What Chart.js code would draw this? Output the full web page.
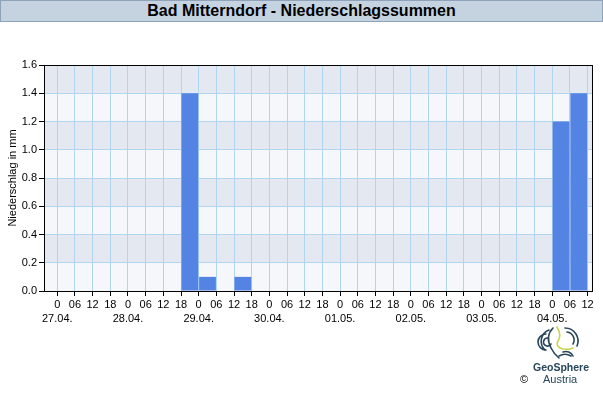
<!DOCTYPE html>
<html>
<head>
<meta charset="utf-8">
<script src="https://cdn.jsdelivr.net/npm/chart.js@4.4.0/dist/chart.umd.min.js"></script>
<style>
  body { margin: 0; background: #fff; font-family: "Liberation Sans", Arial, sans-serif; }
  #wrap { position: relative; width: 603px; height: 400px; }
  #title {
    position: absolute; left: 0; top: 0; width: 601px; height: 20px;
    background: #c5d3e1; border: 1px solid #8ea3b9;
    font-weight: bold; font-size: 16px; line-height: 20px; text-align: center; color: #000;
  }
  #logo { position: absolute; left: 515px; top: 326px; width: 88px; height: 70px; }
  #logo .name { position: absolute; left: 18px; top: 35px; font-size: 10.5px; font-weight: bold; color: #27465a; }
  #logo .land { position: absolute; left: 28px; top: 47px; font-size: 11px; color: #27465a; }
  #logo .copy { position: absolute; left: 5px; top: 47px; font-size: 11px; color: #000; }
</style>
</head>
<body>
<div id="wrap">
  <canvas id="rainChart"></canvas>
  <div id="title">Bad Mitterndorf - Niederschlagssummen</div>
  <div id="logo">
    <svg width="88" height="36" viewBox="0 0 88 36" style="position:absolute;left:0;top:0">
      <g fill="none" stroke="#27465a" stroke-width="1.6" stroke-linecap="round">
        <path d="M33 12 a4 4 0 1 0 3 6"/>
        <path d="M31 8 a8 8 0 0 0 0 16"/>
        <path d="M34 4 a12 12 0 0 0 -4 20"/>
        <path d="M38 2 q-8 8 -2 20 q3 6 8 10"/>
        <path d="M52 6 a8 8 0 0 1 6 12"/>
        <path d="M50 2 a13 13 0 0 1 12 18"/>
        <path d="M48 26 a8 8 0 0 1 10 4"/>
        <path d="M44 30 a12 12 0 0 1 12 0"/>
      </g>
      <path d="M42 1 q5 8 1 14 q-3 6 5 8 q6 1 10 -1" fill="none" stroke="#c7d64a" stroke-width="1.6" stroke-linecap="round"/>
    </svg>
    <span class="name">GeoSphere</span>
    <span class="copy">©</span>
    <span class="land">Austria</span>
  </div>
</div>
<script>
// 6-hourly precipitation sums, one value per interval starting 27.04. 00 UTC
const days = ['27.04.', '28.04.', '29.04.', '30.04.', '01.05.', '02.05.', '03.05.', '04.05.'];
const hourLabels = ['0', '06', '12', '18'];
const precip = [
  0, 0, 0, 0,       // 27.04.
  0, 0, 0, 1.4,     // 28.04.
  0.1, 0, 0.1, 0,   // 29.04.
  0, 0, 0, 0,       // 30.04.
  0, 0, 0, 0,       // 01.05.
  0, 0, 0, 0,       // 02.05.
  0, 0, 0, 0,       // 03.05.
  1.2, 1.4          // 04.05.
];
const yTicks = [0, 0.2, 0.4, 0.6, 0.8, 1.0, 1.2, 1.4, 1.6];

const points = precip.map((v, i) => ({ x: i * 6 + 3, y: v }));
const lastHour = precip.length * 6;   // end of the last interval (04.05. 12)

// alternating horizontal bands + black frame
const bands = {
  id: 'bands',
  beforeDraw(chart) {
    const { ctx, chartArea: a, scales: { y } } = chart;
    ctx.save();
    for (let i = 0; i < yTicks.length - 1; i++) {
      const top = y.getPixelForValue(yTicks[i + 1]);
      const bot = y.getPixelForValue(yTicks[i]);
      ctx.fillStyle = i % 2 === 0 ? '#f5f7fa' : '#e4e9f1';
      ctx.fillRect(a.left, top, a.right - a.left, bot - top);
    }
    ctx.restore();
  },
  afterDraw(chart) {
    const { ctx, chartArea: a } = chart;
    ctx.save();
    ctx.strokeStyle = '#000';
    ctx.lineWidth = 1;
    ctx.strokeRect(Math.round(a.left) + 0.5, Math.round(a.top) + 0.5,
      Math.round(a.right - a.left), Math.round(a.bottom - a.top));
    ctx.restore();
  }
};

const ctx = document.getElementById('rainChart').getContext('2d');
const chart = new Chart(ctx, {
  type: 'bar',
  data: {
    datasets: [{
      data: points,
      backgroundColor: '#5383e3',
      borderWidth: 0,
      barPercentage: 0.95,
      categoryPercentage: 1
    }]
  },
  options: {
    responsive: true,
    maintainAspectRatio: false,
    animation: false,
    layout: { padding: { top: 65, right: 11, left: 0, bottom: 0 } },
    plugins: {
      legend: { display: false },
      tooltip: { enabled: false }
    },
    scales: {
      x: {
        type: 'linear',
        offset: false,
        min: -4.5,
        max: lastHour + 1.5,
        afterBuildTicks(scale) {
          scale.ticks = [];
          for (let h = 0; h <= lastHour; h += 6) scale.ticks.push({ value: h });
        },
        afterFit(scale) { scale.height = 109; },
        grid: { color: '#afd5ef', tickColor: '#000', tickLength: 5, offset: false },
        border: { color: '#000' },
        ticks: {
          autoSkip: false,
          maxRotation: 0,
          padding: 2,
          color: '#000',
          font: { family: 'Liberation Sans', size: 11, lineHeight: 1.25 },
          callback(value) {
            const idx = Math.round(value / 6);
            const hl = hourLabels[idx % 4];
            if (idx % 4 === 0) return [hl, days[idx / 4]];
            return hl;
          }
        }
      },
      y: {
        min: 0,
        max: 1.6,
        afterFit(scale) { scale.width = 44; },
        grid: { color: '#afd5ef', tickColor: '#000', tickLength: 5 },
        border: { color: '#000' },
        ticks: {
          stepSize: 0.2,
          padding: 2,
          color: '#000',
          font: { family: 'Liberation Sans', size: 11 },
          callback: (v) => v.toFixed(1)
        },
        title: {
          display: true,
          text: 'Niederschlag in mm',
          color: '#000',
          font: { family: 'Liberation Sans', size: 11 },
          padding: { top: 6, bottom: 0 }
        }
      }
    }
  },
  plugins: [bands]
});
</script>
</body>
</html>
